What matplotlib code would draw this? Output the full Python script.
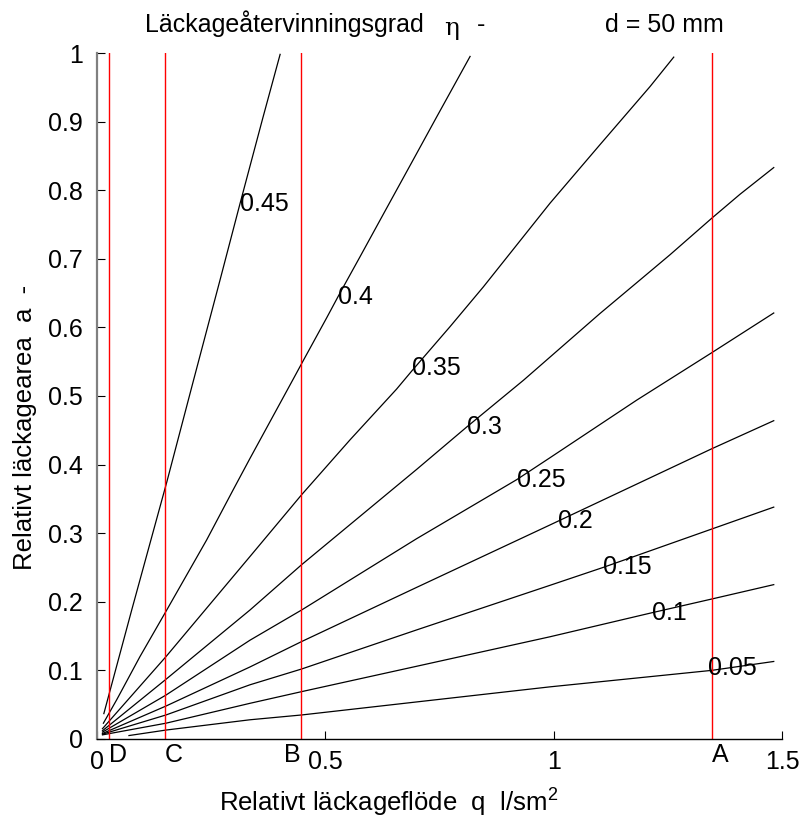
import matplotlib.pyplot as plt
import matplotlib.transforms as mtransforms

plt.rcParams['font.family'] = ['Liberation Sans', 'DejaVu Sans']
plt.rcParams['mathtext.fontset'] = 'custom'
plt.rcParams['mathtext.rm'] = 'Liberation Sans'

# iso-lines of leakage recovery rate, (q, a) pairs
q_005 = [0.07, 0.151, 0.335, 0.448, 0.70, 0.992, 1.346, 1.482]
a_005 = [0.005, 0.013, 0.028, 0.035, 0.054, 0.076, 0.100, 0.113]
q_010 = [0.012, 0.151, 0.335, 0.448, 0.70, 0.992, 1.215, 1.346, 1.482]
a_010 = [0.006, 0.023, 0.052, 0.069, 0.106, 0.149, 0.184, 0.204, 0.225]
q_015 = [0.012, 0.151, 0.335, 0.448, 0.70, 0.992, 1.108, 1.346, 1.482]
a_015 = [0.007, 0.035, 0.079, 0.102, 0.159, 0.224, 0.250, 0.306, 0.338]
q_020 = [0.012, 0.151, 0.335, 0.448, 0.70, 0.992, 1.346, 1.482]
a_020 = [0.008, 0.048, 0.105, 0.142, 0.221, 0.312, 0.423, 0.464]
q_025 = [0.012, 0.151, 0.335, 0.448, 0.70, 0.919, 0.992, 1.182, 1.346, 1.482]
a_025 = [0.010, 0.064, 0.144, 0.188, 0.292, 0.378, 0.410, 0.494, 0.563, 0.621]
q_030 = [0.012, 0.151, 0.335, 0.448, 0.70, 0.810, 0.934, 1.101, 1.196, 1.255, 1.346, 1.408, 1.482]
a_030 = [0.012, 0.087, 0.188, 0.254, 0.393, 0.455, 0.523, 0.620, 0.673, 0.706, 0.759, 0.794, 0.833]
q_035 = [0.012, 0.151, 0.335, 0.448, 0.554, 0.656, 0.690, 0.773, 0.846, 0.919, 0.992, 1.101, 1.167, 1.211, 1.263]
a_035 = [0.015, 0.120, 0.266, 0.356, 0.436, 0.510, 0.537, 0.601, 0.659, 0.720, 0.781, 0.866, 0.917, 0.951, 0.994]
q_040 = [0.014, 0.043, 0.094, 0.151, 0.240, 0.298, 0.335, 0.430, 0.452, 0.503, 0.532, 0.576, 0.627, 0.693, 0.744, 0.817]
a_040 = [0.023, 0.057, 0.120, 0.186, 0.290, 0.363, 0.409, 0.525, 0.552, 0.614, 0.650, 0.703, 0.765, 0.845, 0.907, 0.995]
q_045 = [0.015, 0.076, 0.153, 0.211, 0.269, 0.313, 0.363, 0.401]
a_045 = [0.037, 0.188, 0.375, 0.522, 0.668, 0.780, 0.905, 0.998]

levels = ['0.05', '0.1', '0.15', '0.2', '0.25', '0.3', '0.35', '0.4', '0.45']
label_q = [1.338, 1.215, 1.108, 1.010, 0.919, 0.810, 0.690, 0.528, 0.313]
label_a = [0.103, 0.184, 0.250, 0.318, 0.378, 0.455, 0.541, 0.645, 0.780]

# marked flow cases
mark_q = [0.026, 0.149, 0.447, 1.346]
mark_names = ['D', 'C', 'B', 'A']
mark_align = ['left', 'left', 'right', 'left']

curves = [(q_005, a_005), (q_010, a_010), (q_015, a_015), (q_020, a_020),
          (q_025, a_025), (q_030, a_030), (q_035, a_035), (q_040, a_040),
          (q_045, a_045)]

fig = plt.figure(figsize=(8.03, 8.18), dpi=100)
ax = fig.add_axes([0.1208, 0.0966, 0.8530, 0.8386])

for q, a in curves:
    ax.plot(q, a, color='black', lw=0.9)

for txt, lq, la in zip(levels, label_q, label_a):
    ax.text(lq, la, txt, ha='left', va='center', fontsize=18)

for mq in mark_q:
    ax.axvline(mq, color='red', lw=1)

trans = mtransforms.blended_transform_factory(ax.transData, ax.transAxes)
for mq, name, al in zip(mark_q, mark_names, mark_align):
    ax.text(mq, -0.006, name, transform=trans, ha=al, va='top', fontsize=18)

ax.set_xlim(0, 1.5)
ax.set_ylim(0, 1)
ax.set_xticks([0, 0.5, 1, 1.5])
ax.set_xticklabels(['0', '0.5', '1', '1.5'])
ax.set_yticks([0, 0.1, 0.2, 0.3, 0.4, 0.5, 0.6, 0.7, 0.8, 0.9, 1])
ax.set_yticklabels(['0', '0.1', '0.2', '0.3', '0.4', '0.5', '0.6', '0.7', '0.8', '0.9', '1'])
ax.tick_params(direction='in', length=6, labelsize=18, colors='black')
ax.tick_params(axis='x', pad=8)
ax.tick_params(axis='y', pad=10)

ax.spines['top'].set_visible(False)
ax.spines['right'].set_visible(False)
ax.spines['left'].set_color('#808080')
ax.spines['left'].set_linewidth(1.6)
ax.spines['bottom'].set_linewidth(1)

fig.text(0.1806, 0.961, 'Läckageåtervinningsgrad', ha='left', va='baseline', fontsize=18)
fig.text(0.553, 0.957, 'η', ha='left', va='baseline', fontsize=18, family='DejaVu Serif')
fig.text(0.594, 0.961, '-', ha='left', va='baseline', fontsize=18)
fig.text(0.7534, 0.961, 'd = 50 mm', ha='left', va='baseline', fontsize=18)

fig.text(0.2727, 0.0095, 'Relativt läckageflöde  q  l/sm$^2$', ha='left', va='baseline', fontsize=18.5)
fig.text(0.031, 0.478, 'Relativt läckagearea  a  -', ha='center', va='center', rotation=90, fontsize=18.5)

fig.savefig('out.png', dpi=100)
